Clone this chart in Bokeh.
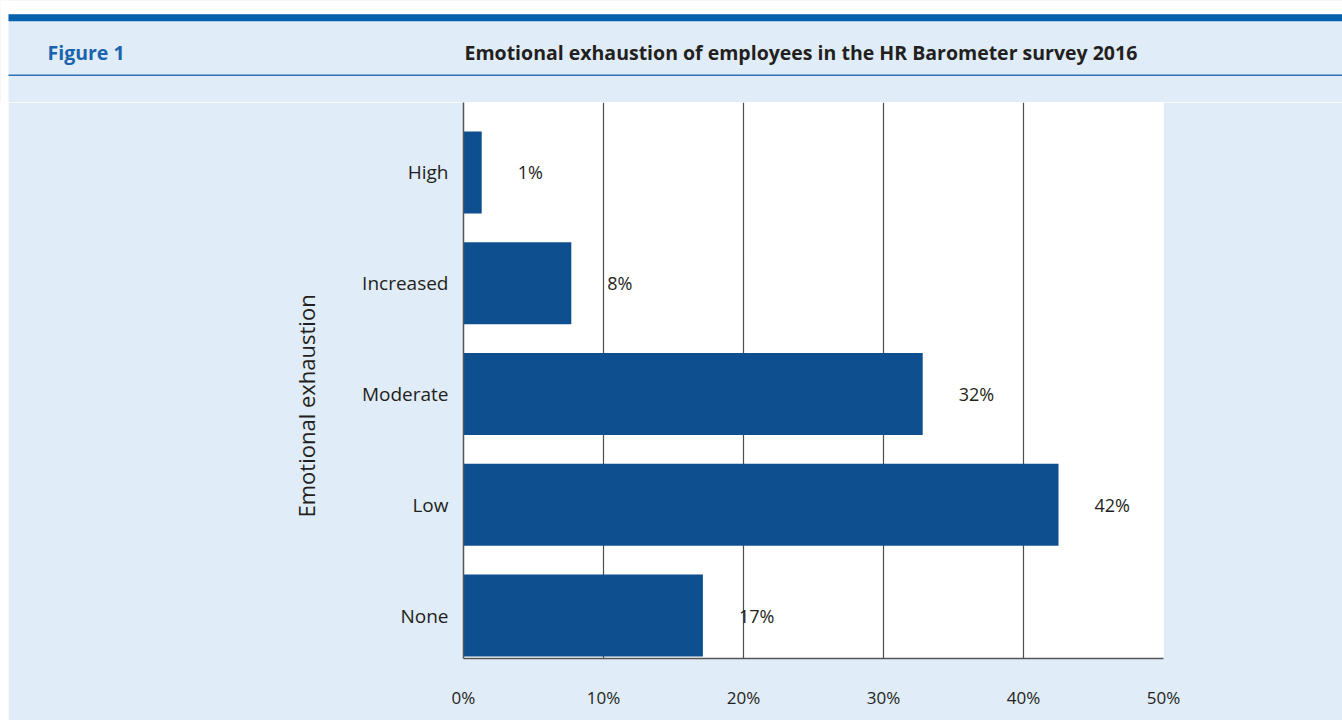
from bokeh.plotting import figure
from bokeh.layouts import column
from bokeh.models import Range1d, FixedTicker, Label, ColumnDataSource, Title
from bokeh.embed import file_html
from bokeh.resources import INLINE

# ---- data ----
categories = ["None", "Low", "Moderate", "Increased", "High"]   # bottom -> top
values = [17.1, 42.5, 32.8, 7.7, 1.3]
value_labels = ["17%", "42%", "32%", "8%", "1%"]
x_ticks = [0, 10, 20, 30, 40, 50]
x_tick_labels = ["0%", "10%", "20%", "30%", "40%", "50%"]
fig_label = "Figure 1"
title_text = "Emotional exhaustion of employees in the HR Barometer survey 2016"
y_axis_title = "Emotional exhaustion"

LIGHT = "#e0ecf7"
BAND = "#0560ae"
BAR = "#0d4f8f"
TXT = "#231f20"
FONT = "Open Sans"

# ---- header ----
h = figure(width=1342, height=102, x_range=Range1d(0, 1342), y_range=Range1d(102, 0),
           toolbar_location=None, output_backend="svg", min_border=0)
h.frame_align = False
h.axis.visible = False
h.grid.visible = False
h.outline_line_color = None
h.background_fill_color = LIGHT
h.border_fill_color = LIGHT
h.quad(left=0, right=1342, top=0, bottom=14, fill_color="white", line_color=None)
h.quad(left=0, right=8, top=0, bottom=102, fill_color="white", line_color=None)
h.quad(left=8, right=1342, top=13.7, bottom=20.7, fill_color=BAND, line_color=None)
h.quad(left=8, right=1342, top=74, bottom=75.5, fill_color="#2d72b8", line_color=None)
h.add_layout(Label(x=47, y=52, text=fig_label, text_font=FONT, text_font_style="bold",
                   text_font_size="19.5px", text_color="#1b64ad", text_baseline="middle"))
h.add_layout(Label(x=464, y=52, text=title_text, text_font=FONT, text_font_style="bold",
                   text_font_size="19.5px", text_color=TXT, text_baseline="middle"))

# ---- main chart ----
ypos = list(range(len(categories)))
src = ColumnDataSource(dict(y=ypos, v=values, lab=value_labels))

p = figure(width=1334, height=618, margin=(0, 0, 0, 8),
           x_range=Range1d(0, 50), y_range=Range1d(-0.388, 4.632),
           toolbar_location=None, output_backend="svg",
           min_border_left=455, min_border_right=179, min_border_top=0, min_border_bottom=62)
p.frame_align = False
p.background_fill_color = "white"
p.border_fill_color = LIGHT
p.outline_line_color = None

p.hbar(y="y", right="v", left=0, height=0.74, source=src, fill_color=BAR, line_color=None)
p.text(x="v", y="y", text="lab", source=src, x_offset=36, text_align="left",
       text_baseline="middle", text_font_size="18px", text_color=TXT,
       text_font={"value": FONT})

p.xaxis.ticker = FixedTicker(ticks=x_ticks)
p.xaxis.major_label_overrides = {t: l for t, l in zip(x_ticks, x_tick_labels)}
p.yaxis.ticker = FixedTicker(ticks=ypos)
p.yaxis.major_label_overrides = {i: c for i, c in zip(ypos, categories)}

for ax in (p.xaxis, p.yaxis):
    ax.axis_line_color = "#555555"
    ax.axis_line_width = 1.5
    ax.major_tick_line_color = None
    ax.minor_tick_line_color = None
    ax.major_tick_out = 0
    ax.major_tick_in = 0
    ax.major_label_text_font = FONT
    ax.major_label_text_color = TXT
p.xaxis.major_label_text_font_size = "17px"
p.xaxis.major_label_standoff = 27
p.yaxis.major_label_text_font_size = "19px"
p.yaxis.major_label_standoff = 15

p.xgrid.ticker = FixedTicker(ticks=x_ticks)
p.xgrid.grid_line_color = "#4d4d4d"
p.xgrid.grid_line_width = 1.2
p.ygrid.visible = False

p.add_layout(Title(text=y_axis_title, align="left", offset=141, standoff=76,
                   text_font=FONT, text_font_size="22px", text_font_style="normal",
                   text_color=TXT), "left")

layout = column(h, p, spacing=0)
open("out.html", "w").write(file_html(layout, INLINE))
